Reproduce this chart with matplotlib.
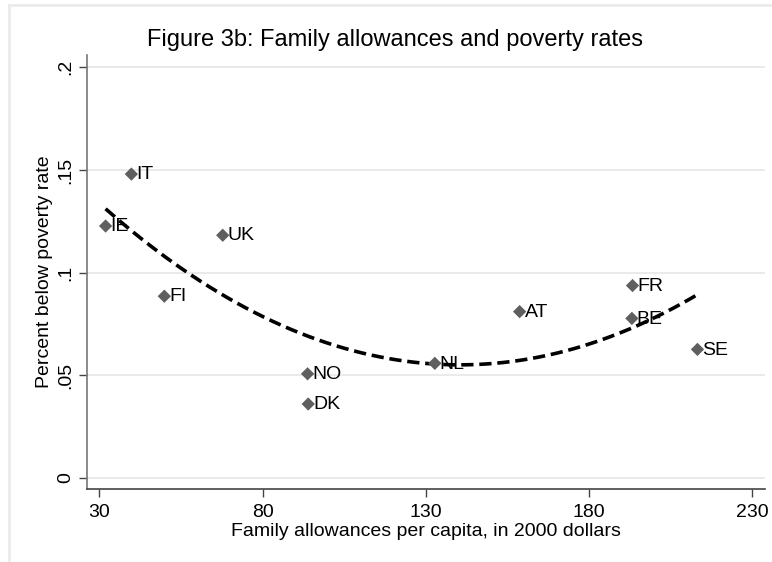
import numpy as np
import matplotlib
matplotlib.use("Agg")
import matplotlib.pyplot as plt
from matplotlib.lines import Line2D

plt.rcParams['font.family'] = ['Liberation Sans', 'DejaVu Sans']

countries = ["IT", "IE", "UK", "FI", "NO", "DK", "NL", "AT", "FR", "BE", "SE"]
allowances = [39.8, 31.9, 67.8, 49.9, 93.8, 94.0, 132.8, 158.8, 193.4, 193.2, 213.3]
poverty = [0.148, 0.1227, 0.1182, 0.0885, 0.0507, 0.036, 0.0558, 0.0810, 0.0937, 0.0777, 0.0626]

x_ticks = [30, 80, 130, 180, 230]
y_ticks = [0, 0.05, 0.1, 0.15, 0.2]
y_tick_labels = ["0", ".05", ".1", ".15", ".2"]

W, H = 772, 562
fig = plt.figure(figsize=(W / 100, H / 100), dpi=100)
ax = fig.add_axes([87 / W, (H - 489) / H, (765 - 87) / W, (489 - 55) / H])

ax.set_xlim(26.2, 234.0)
ax.set_ylim(-0.0054, 0.206)

for yt in y_ticks:
    ax.axhline(yt, color="#e6e6e6", lw=1.2, zorder=0)

# quadratic fit over the observed range
coef = np.polyfit(allowances, poverty, 2)
xs = np.linspace(min(allowances), max(allowances), 200)
ax.plot(xs, np.polyval(coef, xs), color="black", lw=2.6, ls=(0, (3.4, 1.6)), zorder=2)

ax.scatter(allowances, poverty, marker="D", s=46, color="#5f5f5f", edgecolors="none", zorder=3)
for c, xv, yv in zip(countries, allowances, poverty):
    ax.annotate(c, (xv, yv), xytext=(3.5, -0.5), textcoords="offset points",
                va="center", ha="left", fontsize=14, color="black", zorder=4)

ax.set_xticks(x_ticks)
ax.set_yticks(y_ticks)
ax.set_yticklabels(y_tick_labels, rotation=90, va="center")
ax.tick_params(axis="both", labelsize=14, color="#444444", length=6, width=1)
ax.tick_params(axis="x", pad=5)
ax.tick_params(axis="y", pad=3)

for s in ["top", "right"]:
    ax.spines[s].set_visible(False)
ax.spines["left"].set_color("#777777")
ax.spines["bottom"].set_color("#444444")
ax.spines["left"].set_linewidth(1.2)
ax.spines["bottom"].set_linewidth(1.2)

ax.set_xlabel("Family allowances per capita, in 2000 dollars", fontsize=14, labelpad=1)
ax.set_ylabel("Percent below poverty rate", fontsize=14, labelpad=3)
fig.text(395 / W, 1 - 40 / H, "Figure 3b: Family allowances and poverty rates",
         ha="center", va="center", fontsize=17)

# light frame lines along the top and left
fig.add_artist(Line2D([9 / W, 1], [1 - 4.5 / H] * 2, color="#ebebeb", lw=2, transform=fig.transFigure))
fig.add_artist(Line2D([9 / W] * 2, [0, 1 - 4.5 / H], color="#ebebeb", lw=2, transform=fig.transFigure))

fig.savefig("out.png", dpi=100)
